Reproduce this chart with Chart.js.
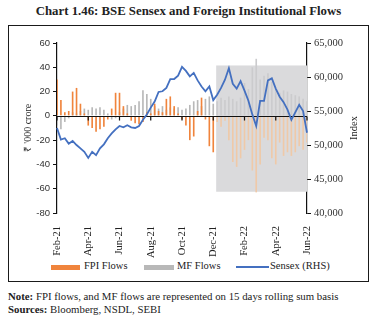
<!DOCTYPE html>
<html>
<head>
<meta charset="utf-8">
<script src="https://cdn.jsdelivr.net/npm/chart.js@4.4.1/dist/chart.umd.min.js"></script>
<style>
  html, body { margin: 0; padding: 0; background: #fff; }
  body { width: 377px; height: 323px; position: relative; overflow: hidden; font-family: "Liberation Serif", serif; color: #222; }
  #title { position: absolute; top: 4px; left: 0; width: 377px; text-align: center; font-weight: bold; font-size: 12.8px; }
  #frame { position: absolute; left: 8px; top: 25px; width: 359px; height: 255px; border: 1.5px solid #1a1a1a; }
  #chart { position: absolute; left: 0; top: 0; }
  .legend { position: absolute; top: 260px; font-size: 10.5px; white-space: nowrap; }
  .sw { position: absolute; }
  #notes { position: absolute; left: 8px; top: 290px; font-size: 10.8px; line-height: 13px; }
</style>
</head>
<body>
<div id="title">Chart 1.46: BSE Sensex and Foreign Institutional Flows</div>
<div id="frame"></div>
<div id="legend-wrapper"></div>
<div id="notes"><b>Note:</b> FPI flows, and MF flows are represented on 15 days rolling sum basis<br><b>Sources:</b> Bloomberg, NSDL, SEBI</div>
<canvas id="chart" width="377" height="323"></canvas>
<script>
// four readings per month, Feb-21 .. May-22, plus the start of Jun-22
const months = ['Feb-21','Mar-21','Apr-21','May-21','Jun-21','Jul-21','Aug-21','Sep-21',
                'Oct-21','Nov-21','Dec-21','Jan-22','Feb-22','Mar-22','Apr-22','May-22'];
const categories = months.flatMap(m => [m, m, m, m]).concat(['Jun-22']);
const tickLabels = ['Feb-21','Apr-21','Jun-21','Aug-21','Oct-21','Dec-21','Feb-22','Apr-22','Jun-22'];

// FPI flows, 15-day rolling sum (₹ '000 crore)
const fpiFlows = [30, 13, 3, 4, 20, 23, 10, 2, -8, -10, -13, -11, -9, -3, 6, 19,
                  19, 8, 2, -4, -6, -7, -5, 3, 2, 10, 4, 3, 14, 16, 8, 2,
                  -3, -8, -20, -17, 4, 15, -3, -25, -30, -5, -9, -4, -20, -38, -42, -35,
                  -28, -20, -45, -63, -40, -18, -20, -35, -40, -22, -33, -30, -33, -30, -25, -28,
                  -22];
// MF flows, 15-day rolling sum (₹ '000 crore)
const mfFlows = [-8, -11, -5, -2, 3, 2, 4, 6, 5, 7, 6, 7, 5, 2, -3, -2,
                 3, 6, 9, 8, 9, 12, 21, 18, 14, 8, 6, 8, 5, 7, 6, 7,
                 5, 6, 9, 12, 13, 8, 14, 16, 10, 12, 15, 13, 16, 14, 12, 15,
                 27, 22, 40, 47, 30, 33, 35, 28, 22, 19, 21, 20, 18, 17, 16, 14,
                 12];
// BSE Sensex (RHS)
const sensex = [52500, 50800, 51000, 50200, 50600, 50000, 49500, 49000, 48100, 49000, 48500, 49500, 50100, 51000, 51700, 52300,
                52800, 52600, 52900, 52600, 52500, 52800, 53700, 54500, 55500, 56400, 57800, 57900, 58400, 59700, 59700, 60200,
                61500, 60900, 60100, 60600, 59500, 58600, 57900, 58600, 56600, 57400, 58400, 59600, 61300, 59000, 58300, 59400,
                58000, 56500, 54500, 52800, 56500, 56500, 59500, 59800, 58300, 57100, 56300, 55200, 53700, 54800, 55900, 55000,
                51800];

const shadeFrom = 40.75;           // shaded period starts in Dec-21
const shadeTop = 41.5, shadeBottom = -62.5;

const fpiColor = '#f0843c', fpiPale = '#efc9a8';
const mfColor = '#b8b8b8', mfPale = '#cbcbcd';
const lineColor = '#4470c0';

const serif = '"Liberation Serif", serif';

const shadePlugin = {
    id: 'shade',
    beforeDatasetsDraw(chart) {
        const {ctx, scales: {x, y}} = chart;
        const x0 = x.getPixelForValue(shadeFrom);
        const y0 = y.getPixelForValue(shadeTop);
        const y1 = y.getPixelForValue(shadeBottom);
        ctx.save();
        ctx.fillStyle = '#dadadc';
        ctx.fillRect(x0, y0, chart.chartArea.right - x0, y1 - y0);
        ctx.restore();
    },
    beforeDatasetDraw(chart, args) {
        if (args.index !== 2) return;
        // zero line with tick marks, the x axis crosses here
        const {ctx, chartArea, scales: {x, y}} = chart;
        const zy = Math.round(y.getPixelForValue(0)) + 0.5;
        ctx.save();
        ctx.strokeStyle = '#111';
        ctx.lineWidth = 1.2;
        ctx.beginPath();
        ctx.moveTo(chartArea.left, zy);
        ctx.lineTo(chartArea.right, zy);
        for (let i = 0; i < categories.length; i += 8) {
            const px = x.getPixelForValue(i);
            ctx.moveTo(px, zy);
            ctx.lineTo(px, zy + 4);
        }
        ctx.stroke();
        ctx.restore();
    },
    afterDraw(chart) {
        const {ctx, chartArea} = chart;
        const mid = (chartArea.top + chartArea.bottom) / 2;
        ctx.save();
        ctx.fillStyle = '#222';
        ctx.textAlign = 'center';
        ctx.textBaseline = 'middle';
        ctx.font = '10px ' + serif;
        ctx.translate(28, mid);
        ctx.rotate(-Math.PI / 2);
        ctx.fillText("₹ '000 crore", 0, 0);
        ctx.restore();
        ctx.save();
        ctx.fillStyle = '#222';
        ctx.textAlign = 'center';
        ctx.textBaseline = 'middle';
        ctx.font = '10.5px ' + serif;
        ctx.translate(354, mid);
        ctx.rotate(-Math.PI / 2);
        ctx.fillText('Index', 0, 0);
        ctx.restore();
    }
};

const inShade = i => i >= shadeFrom;

const config = {
    type: 'bar',
    data: {
        labels: categories,
        datasets: [
            {
                label: 'MF Flows',
                data: mfFlows,
                backgroundColor: mfFlows.map((v, i) => inShade(i) ? mfPale : mfColor),
                barPercentage: 0.42,
                categoryPercentage: 1,
                grouped: false,
                order: 3,
                yAxisID: 'y'
            },
            {
                label: 'FPI Flows',
                data: fpiFlows,
                backgroundColor: fpiFlows.map((v, i) => inShade(i) ? fpiPale : fpiColor),
                barPercentage: 0.42,
                categoryPercentage: 1,
                grouped: false,
                order: 2,
                yAxisID: 'y'
            },
            {
                type: 'line',
                label: 'Sensex (RHS)',
                data: sensex,
                borderColor: lineColor,
                borderWidth: 1.8,
                pointRadius: 0,
                tension: 0,
                fill: false,
                order: 1,
                yAxisID: 'y1'
            }
        ]
    },
    options: {
        responsive: false,
        animation: false,
        layout: { padding: { top: 43, left: 0, right: 0, bottom: 0 } },
        plugins: {
            legend: { display: false },
            tooltip: { enabled: false }
        },
        scales: {
            x: {
                offset: false,
                grid: { display: false },
                border: { display: false },
                ticks: {
                    autoSkip: false,
                    minRotation: 90,
                    maxRotation: 90,
                    padding: 5,
                    color: '#222',
                    font: { family: serif, size: 10.5 },
                    callback: (v, i) => i % 8 === 0 ? tickLabels[i / 8] : ''
                },
                afterFit: s => { s.height = 110; }
            },
            y: {
                position: 'left',
                min: -80,
                max: 60,
                ticks: {
                    stepSize: 20,
                    padding: 3,
                    color: '#333',
                    font: { family: '"Liberation Sans", sans-serif', size: 9.5 }
                },
                grid: { display: true, drawOnChartArea: false, drawTicks: true, tickLength: 4, color: '#111' },
                border: { display: true, color: '#111', width: 1.2 },
                afterFit: s => { s.width = 57; }
            },
            y1: {
                position: 'right',
                min: 40000,
                max: 65000,
                ticks: {
                    stepSize: 5000,
                    padding: 3,
                    color: '#333',
                    font: { family: serif, size: 10.5 },
                    callback: v => v.toLocaleString('en-US')
                },
                grid: { display: true, drawOnChartArea: false, drawTicks: true, tickLength: 4, color: '#111' },
                border: { display: true, color: '#111', width: 1.2 },
                afterFit: s => { s.width = 70; }
            }
        }
    },
    plugins: [shadePlugin]
};

const myChart = new Chart(document.getElementById('chart'), config);

// custom legend below the axis labels
const legendItems = [
    { text: 'FPI Flows', color: fpiColor, swX: 51, swW: 29, h: 5, textX: 84 },
    { text: 'MF Flows', color: mfColor, swX: 144, swW: 30, h: 5, textX: 177 },
    { text: 'Sensex (RHS)', color: lineColor, swX: 236, swW: 33, h: 2, textX: 270 }
];
const legendContainer = document.getElementById('legend-wrapper');
legendItems.forEach(item => {
    const sw = document.createElement('div');
    sw.className = 'sw';
    sw.style.left = item.swX + 'px';
    sw.style.width = item.swW + 'px';
    sw.style.height = item.h + 'px';
    sw.style.top = (267 - item.h / 2) + 'px';
    sw.style.background = item.color;
    legendContainer.appendChild(sw);

    const label = document.createElement('div');
    label.className = 'legend';
    label.style.left = item.textX + 'px';
    label.textContent = item.text;
    legendContainer.appendChild(label);
});
</script>
</body>
</html>
